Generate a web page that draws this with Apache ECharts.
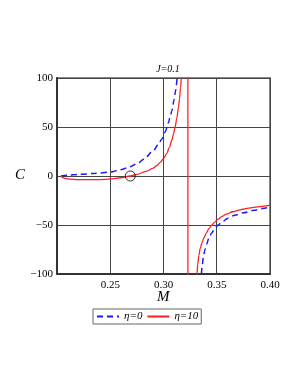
<!DOCTYPE html>
<html><head><meta charset="utf-8">
<script src="https://cdn.jsdelivr.net/npm/echarts@6/dist/echarts.min.js"></script>
<style>html,body{margin:0;padding:0;background:#fff}#c{width:300px;height:388px}</style>
</head><body><div id="c"></div>
<script>
const titleText = "J=0.1";
const xName = "M";
const yName = "C";
const xTicks = [0.20, 0.25, 0.30, 0.35, 0.40];
const yTicks = [-100, -50, 0, 50, 100];
const seriesNames = ["η=0", "η=10"];

const blueM = [0.2037,0.21,0.22,0.235,0.25,0.26,0.2688,0.2766,0.2813,0.2906,0.295,0.2984,0.3016,0.3045,0.3063,0.3078,0.310,0.3115,0.313,0.3145,0.316,null,
  0.3356,0.3364,0.3374,0.3387,0.3403,0.3425,0.345,0.348,0.3513,0.355,0.3606,0.367,0.375,0.385,0.393,0.40];
const blueC = [0,0.8,1.6,2.6,4,6.5,9.5,13.5,17,26,32,37.5,45,54,60.5,66.5,78,88,100,115,140,null,
  -100,-91,-83,-76,-70,-64,-58.5,-54,-50,-46.8,-43,-40,-37.5,-35,-33.2,-31.7];

const redM = [0.2037,0.2045,0.206,0.209,0.212,0.22,0.234,0.245,0.25,0.26,0.2688,0.275,0.2844,0.29,0.2938,0.297,0.30,0.3031,0.3056,0.3078,0.3094,0.311,0.3125,0.314,0.315,0.316,0.317,0.3185,0.3229,
  0.3229,0.3314,0.3322,0.3332,0.3345,0.336,0.338,0.3403,0.3425,0.345,0.348,0.3513,0.355,0.3591,0.365,0.372,0.38,0.39,0.40];
const redC = [0,-1,-2,-2.7,-3.1,-3.6,-3.8,-3.4,-3,-1.8,0,1.7,5,7.8,10.5,14,17.8,23,29.5,36.5,43,50.5,59,69.5,78.5,90,103,130,1000,
  -1000,-100,-90,-81,-74,-68.5,-63,-58,-54,-50.5,-47,-44,-41.2,-39,-36.5,-34.5,-32.8,-31.2,-29.7];

const markerM = [0.2688];
const markerC = [0];

function pairs(xs, ys){ return xs.map((x,i)=> x===null ? [null,null] : [x, ys[i]]); }

const chart = echarts.init(document.getElementById('c'));
const serif = '"Liberation Serif","DejaVu Serif",serif';
chart.setOption({
  animation:false,
  backgroundColor:'#fff',
  title:{text:titleText,left:163,top:59,textAlign:'center',textStyle:{fontFamily:serif,fontStyle:'italic',fontWeight:'normal',fontSize:10,color:'#000'}},
  grid:{left:57,right:30,top:78,bottom:114,show:true,borderColor:'#888',borderWidth:2,backgroundColor:'transparent'},
  xAxis:{type:'value',min:xTicks[0],max:xTicks[xTicks.length-1],interval:0.05,
    axisLine:{show:true,onZero:false,lineStyle:{color:'#333',width:2}},
    axisTick:{show:false},
    splitLine:{show:true,lineStyle:{color:'#444',width:1}},
    axisLabel:{color:'#000',fontFamily:serif,fontSize:11,margin:6,
      formatter:v=> Math.abs(v-xTicks[0])<1e-9 ? '' : v.toFixed(2)}},
  yAxis:{type:'value',min:yTicks[0],max:yTicks[yTicks.length-1],interval:50,
    axisLine:{show:true,onZero:false,lineStyle:{color:'#333',width:2}},
    axisTick:{show:false},
    splitLine:{show:true,lineStyle:{color:'#444',width:1}},
    axisLabel:{color:'#000',fontFamily:serif,fontSize:11,margin:4,
      formatter:v=> v<0 ? '\u2212'+Math.abs(v) : String(v)}},
  legend:{left:93,top:309,itemWidth:22,itemHeight:10,itemGap:4,padding:[2,3,2,3],
    borderColor:'#666',borderWidth:1,
    itemStyle:{opacity:0},
    textStyle:{fontFamily:serif,fontStyle:'italic',fontSize:11,color:'#000'},
    data:seriesNames},
  graphic:[
    {type:'text',left:15,top:168,style:{text:yName,font:'italic 15px '+serif,fill:'#000'}},
    {type:'text',left:157,top:290,style:{text:xName,font:'italic 15px '+serif,fill:'#000'}}
  ],
  series:[
    {name:seriesNames[0],type:'line',data:pairs(blueM,blueC),symbol:'none',smooth:0.3,smoothMonotone:'x',connectNulls:false,clip:true,
      lineStyle:{color:'#1a1aff',width:1.5,type:[6,4]},itemStyle:{color:'#1a1aff'}},
    {name:seriesNames[1],type:'line',data:pairs(redM,redC),symbol:'none',smooth:0.3,smoothMonotone:'x',clip:true,
      lineStyle:{color:'#ff2020',width:1.3},itemStyle:{color:'#ff2020'}},
    {type:'scatter',data:pairs(markerM,markerC),symbol:'circle',symbolSize:10,clip:false,
      itemStyle:{color:'rgba(0,0,0,0)',borderColor:'#000',borderWidth:1},z:5}
  ]
});
</script></body></html>
